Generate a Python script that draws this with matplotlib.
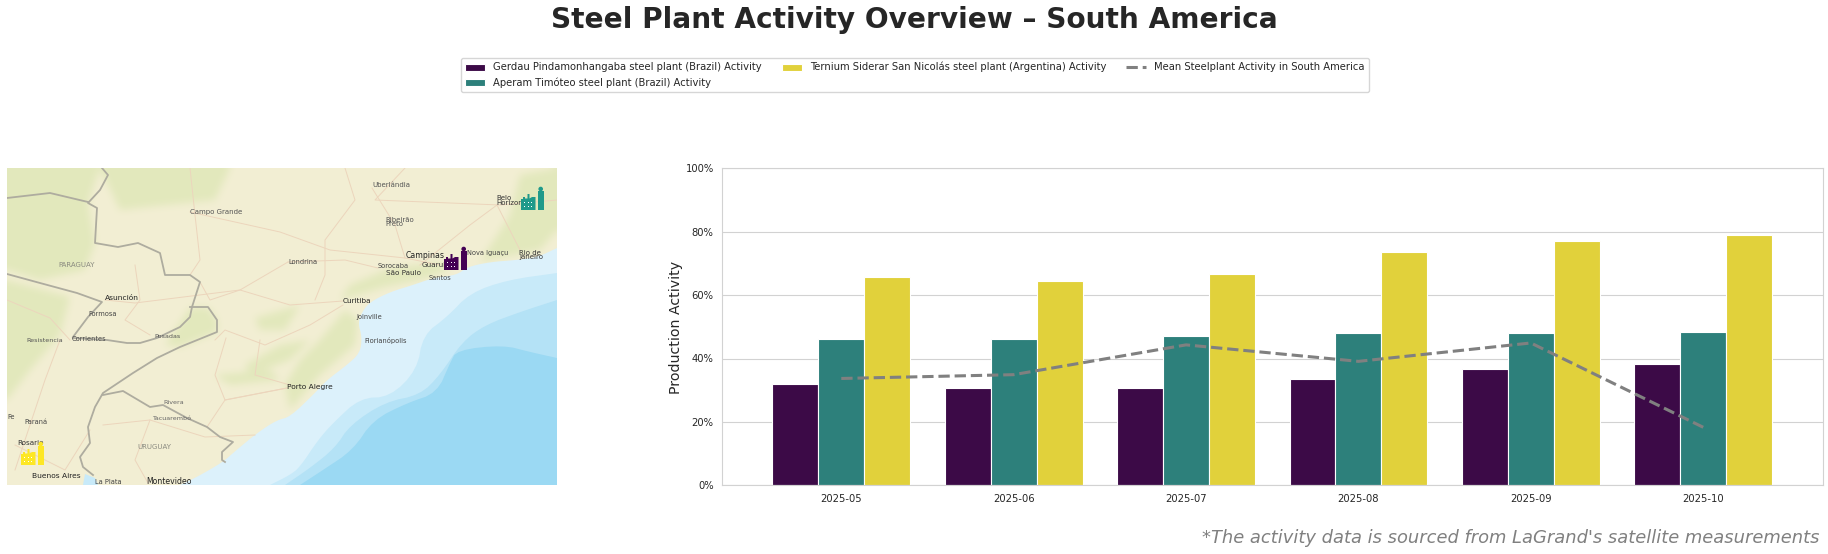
import numpy as np
import matplotlib
matplotlib.use("Agg")
import matplotlib.pyplot as plt
from matplotlib.patches import Polygon, Rectangle, Circle

W, H = 1828, 554

# Chart data
months = ["2025-05", "2025-06", "2025-07", "2025-08", "2025-09", "2025-10"]
gerdau = [31.8, 30.6, 30.6, 33.4, 36.6, 38.2]
aperam = [46.0, 46.0, 47.0, 47.9, 48.2, 48.4]
ternium = [65.6, 64.3, 66.5, 73.5, 77.0, 79.0]
mean_activity = [33.7, 34.9, 44.3, 39.1, 44.9, 18.3]
yticks = [0, 20, 40, 60, 80, 100]

c_gerdau = "#3c0a47"
c_aperam = "#2d807b"
c_ternium = "#e1d13b"

# Map shapes, traced in image pixels
coast = [(557, 248), (538, 257), (517, 260), (490, 262), (467, 267), (457, 275), (433, 278),
         (413, 285), (390, 292), (370, 302), (362, 312), (358, 323), (362, 337), (360, 353),
         (347, 365), (327, 380), (315, 393), (290, 417), (277, 420), (257, 433), (233, 453),
         (223, 462), (197, 477), (180, 485)]
shelf_1 = [(557, 273), (507, 280), (470, 293), (447, 317), (423, 335), (417, 370), (390, 397),
           (360, 398), (333, 423), (318, 440), (300, 467), (290, 475), (270, 485)]
shelf_2 = [(557, 300), (520, 312), (485, 325), (462, 342), (440, 375), (420, 395), (385, 402),
           (350, 425), (335, 448), (310, 468), (285, 485)]
deep_sea = [(557, 358), (530, 352), (503, 345), (457, 350), (450, 363), (437, 393), (407, 403),
            (373, 420), (353, 450), (323, 470), (300, 485)]
plata = [(83, 485), (85, 474), (95, 478), (98, 485)]

green_patches = [
    [(7, 168), (100, 168), (88, 203), (95, 243), (85, 270), (40, 280), (7, 270)],
    [(7, 280), (70, 297), (60, 335), (30, 370), (7, 400)],
    [(100, 168), (230, 168), (215, 200), (120, 210)],
    [(190, 308), (208, 307), (217, 320), (217, 332), (180, 347), (165, 345)],
    [(340, 300), (385, 287), (420, 280), (450, 270), (440, 262), (390, 268), (350, 285)],
    [(290, 410), (320, 375), (355, 345), (358, 320), (345, 310), (320, 340), (300, 360), (285, 385)],
    [(480, 262), (540, 250), (557, 230), (557, 168), (520, 175), (510, 215)],
    [(250, 375), (290, 360), (310, 340), (280, 345), (245, 365)],
    [(215, 375), (270, 370), (280, 380), (230, 385)],
    [(255, 318), (300, 305), (285, 330), (260, 330)],
]

borders = [
    [(102, 168), (108, 175), (100, 190), (88, 203), (97, 208), (95, 243), (118, 247), (138, 243),
     (160, 253), (165, 275), (190, 275), (200, 282), (192, 307), (190, 317), (180, 327), (157, 338),
     (140, 343), (127, 343), (107, 340), (73, 338)],
    [(7, 198), (50, 193), (88, 202)],
    [(7, 274), (40, 283), (77, 293), (102, 302), (88, 317), (73, 337)],
    [(190, 307), (208, 307), (217, 320), (217, 332), (180, 347), (157, 358), (133, 373), (103, 393),
     (95, 407), (88, 427), (90, 443), (80, 457), (83, 467), (93, 475)],
    [(103, 395), (123, 391), (150, 407), (163, 405), (187, 418), (207, 427), (220, 437), (233, 442),
     (222, 452), (222, 460), (225, 462)],
]

roads = [
    [(190, 168), (195, 215), (200, 260), (190, 275)],
    [(190, 212), (280, 232), (330, 250), (405, 258), (440, 265)],
    [(345, 168), (355, 200), (325, 240), (325, 275), (315, 300)],
    [(372, 188), (395, 225), (405, 258)],
    [(405, 168), (375, 200), (500, 205), (557, 200)],
    [(288, 262), (240, 290), (210, 300), (200, 282)],
    [(288, 262), (345, 260), (378, 268)],
    [(343, 301), (290, 305), (240, 290), (135, 303), (105, 300)],
    [(343, 305), (310, 325), (265, 345), (225, 330), (215, 340)],
    [(260, 340), (255, 375), (290, 385)],
    [(226, 338), (215, 375), (225, 400), (287, 388)],
    [(287, 388), (225, 400), (207, 427)],
    [(135, 265), (140, 300), (125, 320), (150, 335)],
    [(60, 340), (45, 380), (25, 440), (15, 470)],
    [(103, 425), (150, 420), (205, 437), (255, 435)],
    [(150, 420), (135, 460), (148, 483)],
    [(7, 300), (50, 318), (70, 340)],
    [(15, 445), (65, 470), (90, 430)],
    [(420, 265), (470, 225), (497, 205)],
    [(497, 205), (520, 250)],
]

cities = [
    ("Uberlândia", 372, 185, 5.0, "#555555"), ("Campo Grande", 190, 212, 5.0, "#555555"),
    ("Ribeirão", 385, 220, 5.0, "#555555"), ("Preto", 385, 224.5, 5.0, "#555555"),
    ("PARAGUAY", 58, 265, 5.0, "#8a8a80"), ("Londrina", 288, 262, 4.8, "#444444"),
    ("Campinas", 406, 255, 5.6, "#222222"), ("Sorocaba", 378, 266, 4.8, "#444444"),
    ("Guarulhos", 422, 265, 5.2, "#333333"), ("São Paulo", 386, 273, 5.2, "#333333"),
    ("Santos", 429, 278, 4.8, "#444444"), ("Nova Iguaçu", 467, 253, 4.8, "#444444"),
    ("Rio de", 519, 253, 5.0, "#333333"), ("Janeiro", 519, 257.5, 5.0, "#333333"),
    ("Belo", 496, 198, 5.0, "#333333"), ("Horizonte", 496, 203, 5.0, "#333333"),
    ("Curitiba", 343, 301, 5.2, "#222222"), ("Joinville", 356, 317, 4.8, "#444444"),
    ("Florianópolis", 364, 341, 4.8, "#444444"), ("Porto Alegre", 287, 387, 5.4, "#222222"),
    ("Asunción", 105, 298, 5.4, "#222222"), ("Formosa", 88, 314, 4.8, "#444444"),
    ("Resistencia", 26, 340, 4.6, "#555555"), ("Corrientes", 72, 339, 4.8, "#444444"),
    ("Posadas", 154, 337, 4.6, "#555555"), ("Rivera", 163, 403, 4.6, "#666666"),
    ("Tacuarembó", 152, 419, 4.6, "#666666"), ("Paraná", 24, 422, 4.8, "#444444"),
    ("Fe", 7.5, 417, 4.8, "#444444"), ("Rosario", 17, 443, 5.2, "#333333"),
    ("URUGUAY", 137, 447, 5.0, "#8a8a80"), ("Buenos Aires", 32, 476, 5.4, "#222222"),
    ("La Plata", 95, 482, 4.8, "#444444"), ("Montevideo", 146, 481, 5.6, "#222222"),
]

# plant icons: left edge and bottom of the building
plants = [(444, 270, "#440154"), (521, 210, "#1f9a8a"), (21, 465, "#fde725")]


def px_box(x0, y0, x1, y1):
    return [x0 / W, 1 - y1 / H, (x1 - x0) / W, (y1 - y0) / H]


def rounded(curve, passes=2):
    # corner cutting, keeps both end points
    pts = np.array(curve, dtype=float)
    for _ in range(passes):
        q = 0.75 * pts[:-1] + 0.25 * pts[1:]
        r = 0.25 * pts[:-1] + 0.75 * pts[1:]
        mid = np.empty((2 * len(q), 2))
        mid[0::2] = q
        mid[1::2] = r
        pts = np.vstack([pts[0], mid, pts[-1]])
    return pts


def sea_shape(curve):
    return np.vstack([rounded(curve), [(557, 485)]])


def draw_factory(ax, x, y, color):
    roof = [(x, y), (x, y - 11), (x + 2, y - 11), (x + 2, y - 13), (x + 4, y - 13), (x + 4, y - 11.5),
            (x + 6.5, y - 11.5), (x + 6.5, y - 16), (x + 8.5, y - 16), (x + 8.5, y - 11.5),
            (x + 11, y - 13), (x + 14.5, y - 13), (x + 14.5, y)]
    ax.add_patch(Polygon(roof, color=color, lw=0, zorder=6))
    ax.add_patch(Rectangle((x + 17, y - 19), 5.5, 19, color=color, lw=0, zorder=6))
    ax.add_patch(Circle((x + 19.7, y - 21), 2.3, color=color, lw=0, zorder=6))
    for dx in (3, 6.5, 10):
        for dy in (4, 8):
            ax.add_patch(Rectangle((x + dx, y - dy), 1.3, 1.3, color="white", lw=0, zorder=7))


def soft_land():
    # land colour with the green relief patches, blurred so the edges fade out
    tmp = plt.figure(figsize=(5.5, 3.17), dpi=100)
    tax = tmp.add_axes([0, 0, 1, 1])
    tax.set_xlim(7, 557)
    tax.set_ylim(485, 168)
    tax.axis("off")
    tax.add_patch(Rectangle((7, 168), 550, 317, color="#f2eed3", lw=0))
    for patch in green_patches:
        tax.add_patch(Polygon(patch, color="#e2e8bc", lw=0))
    tmp.canvas.draw()
    img = np.asarray(tmp.canvas.buffer_rgba())[:, :, :3].astype(float)
    plt.close(tmp)
    kernel = np.ones(9) / 9
    margin = 30
    pad = np.pad(img, ((margin, margin), (margin, margin), (0, 0)), mode="edge")
    for _ in range(2):
        pad = np.apply_along_axis(lambda v: np.convolve(v, kernel, mode="same"), 0, pad)
        pad = np.apply_along_axis(lambda v: np.convolve(v, kernel, mode="same"), 1, pad)
    return pad[margin:-margin, margin:-margin].round().astype(np.uint8)


fig = plt.figure(figsize=(W / 100, H / 100), dpi=100, facecolor="white")

# Map panel
ax_map = fig.add_axes(px_box(7, 168, 557, 485))
ax_map.imshow(soft_land(), extent=(7, 557, 485, 168), aspect="auto", interpolation="bilinear", zorder=0)
ax_map.set_xlim(7, 557)
ax_map.set_ylim(485, 168)
ax_map.axis("off")
ax_map.add_patch(Polygon(sea_shape(coast), color="#dcf1fb", lw=0, zorder=2))
ax_map.add_patch(Polygon(sea_shape(shelf_1), color="#c8eaf9", lw=0, zorder=2.1))
ax_map.add_patch(Polygon(sea_shape(shelf_2), color="#b4e2f6", lw=0, zorder=2.2))
ax_map.add_patch(Polygon(sea_shape(deep_sea), color="#9bd9f3", lw=0, zorder=2.3))
ax_map.add_patch(Polygon(plata, color="#c8eaf9", lw=0, zorder=2.4))
for road in roads:
    xs, ys = zip(*road)
    ax_map.plot(xs, ys, color="#ecd5bc", lw=0.7, zorder=3)
for border in borders:
    xs, ys = zip(*border)
    ax_map.plot(xs, ys, color="#aeac9f", lw=1.3, zorder=4)
for name, x, y, size, col in cities:
    ax_map.text(x, y, name, fontsize=size, color=col, va="center", ha="left", zorder=5, clip_on=True)
for x, y, col in plants:
    draw_factory(ax_map, x, y, col)

# Bar panel
ax = fig.add_axes(px_box(722, 168.3, 1822.7, 485.3))
x = np.arange(len(months))
bw = 0.8 / 3
b1 = ax.bar(x - bw, gerdau, bw, color=c_gerdau, edgecolor="white", lw=0.8, zorder=2)
b2 = ax.bar(x, aperam, bw, color=c_aperam, edgecolor="white", lw=0.8, zorder=2)
b3 = ax.bar(x + bw, ternium, bw, color=c_ternium, edgecolor="white", lw=0.8, zorder=2)
line, = ax.plot(x, mean_activity, color="#808080", lw=2.2, ls="--", zorder=3)

ax.set_xlim(-0.692, 5.693)
ax.set_ylim(0, 100)
ax.set_xticks(x)
ax.set_xticklabels(months)
ax.set_yticks(yticks)
ax.set_yticklabels([f"{v}%" for v in yticks])
ax.tick_params(length=0, labelsize=7.2, labelcolor="#262626", pad=6)
ax.grid(axis="y", color="#d2d2d2", lw=0.8)
ax.set_axisbelow(True)
for spine in ax.spines.values():
    spine.set_color("#d2d2d2")
    spine.set_linewidth(0.8)
ax.set_ylabel("Production Activity", fontsize=10.2, color="#262626")
ax.yaxis.set_label_coords((683 - 722) / 1100.7, 0.497)

fig.legend([b1, b2, b3, line],
           ["Gerdau Pindamonhangaba steel plant (Brazil) Activity",
            "Aperam Timóteo steel plant (Brazil) Activity",
            "Ternium Siderar San Nicolás steel plant (Argentina) Activity",
            "Mean Steelplant Activity in South America"],
           ncol=3, loc="center", bbox_to_anchor=(914.8 / W, 1 - 75 / H),
           fontsize=7.2, frameon=True, edgecolor="#cccccc", facecolor="white",
           labelcolor="#262626")

fig.text(914 / W, 1 - 20 / H, "Steel Plant Activity Overview – South America", fontsize=20.2,
         fontweight="bold", color="#262626", ha="center", va="center")
fig.text(1820 / W, 1 - 538 / H, "*The activity data is sourced from LaGrand's satellite measurements",
         fontsize=12.9, style="italic", color="#808080", ha="right", va="center")

fig.savefig("out.png", dpi=100)
